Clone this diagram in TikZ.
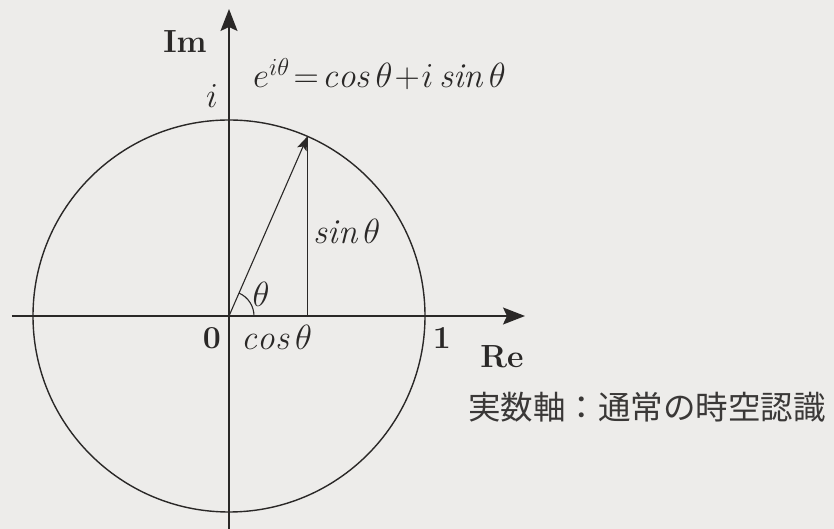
\RequirePackage{fix-cm}
\documentclass[tikz,border=0pt]{standalone}
\usepackage{fontspec}
\newfontfamily\cjkjp{Noto Sans CJK JP}
\usetikzlibrary{arrows.meta,calc}
\definecolor{paper}{HTML}{EDECEA}
\definecolor{ink}{HTML}{2A2827}
\definecolor{jpink}{HTML}{3A3837}
\tikzset{
  axisline/.style={draw=ink,line width=1.5pt,-{Stealth[length=22pt,width=17pt,inset=4pt]}},
  circleline/.style={draw=ink,line width=1.4pt},
  thinline/.style={draw=ink,line width=1.1pt},
  vecline/.style={draw=ink,line width=1.1pt,-{Stealth[length=14pt,width=10pt,inset=3pt]}},
  lbl/.style={text=ink,inner sep=0pt,font=\fontsize{35}{40}\selectfont},
  blbl/.style={text=ink,inner sep=0pt,font=\fontsize{32}{38}\selectfont\bfseries},
}
\begin{document}
\begin{tikzpicture}[x=1pt,y=1pt]
\fill[paper] (-229,-213) rectangle (605,316);
\useasboundingbox (-229,-213) rectangle (605,316);
\coordinate (O) at (0,0);
\coordinate (xl) at (-217,0);
\coordinate (xr) at (296,0);
\coordinate (yb) at (0,-215);
\coordinate (yt) at (0,307);
\coordinate (P) at (66.4:196);
\coordinate (F) at (P |- O);
% circle
\draw[circleline] (O) circle[radius=196];
% axes
\draw[axisline] (xl) -- (xr);
\draw[axisline] (yb) -- (yt);
% sin line
\draw[thinline] (P) -- (F);
% vector
\draw[vecline] (O) -- (P);
% angle arc
\draw[thinline] (25,0) arc[start angle=0,end angle=66.4,radius=25];
% labels
\node[lbl] (th) at (32,22) {$\theta$};
\node[blbl] (im) at (-44,274) {Im};
\node[lbl] (ii) at (-17,220) {$i$};
\node[lbl,anchor=base west] (eq) at (24,228) {$e^{i\theta}\!=\!\mathit{cos}\,\theta\!+\!i\,\mathit{sin}\,\theta$};
\node[lbl] (sn) at (118,84) {$\mathit{sin}\,\theta$};
\node[blbl] (zero) at (-17,-22) {0};
\node[lbl] (cs) at (48,-22) {$\mathit{cos}\,\theta$};
\node[blbl] (one) at (213,-22) {1};
\node[blbl] (re) at (273,-41) {Re};
\node[anchor=west,inner sep=0pt,text=jpink,font=\cjkjp\fontsize{32.5}{36}\selectfont] (jp) at (239,-91) {実数軸：通常の時空認識};
\end{tikzpicture}
\end{document}
